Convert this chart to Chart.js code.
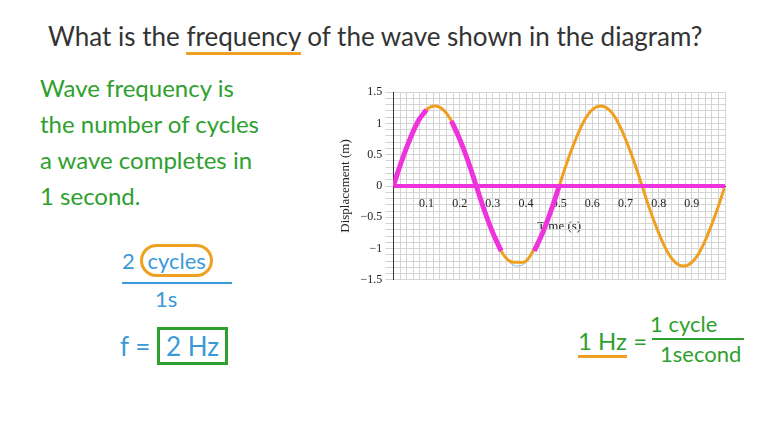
<!DOCTYPE html><html><head><meta charset="utf-8">
<script src="https://cdn.jsdelivr.net/npm/chart.js@4"></script>
<style>
body{margin:0;width:760px;height:427px;background:#fff;position:relative;overflow:hidden;font-family:"Lato","Noto Sans",sans-serif}
.t{position:absolute;white-space:nowrap}
#wrap{position:absolute;left:334px;top:82px;width:394px;height:208px}
</style></head><body>
<div class="t" style="left:48px;top:20px;font-size:26px;color:#333">What is the <span style="border-bottom:3px solid #f0a020">frequency</span> of the wave shown in the diagram?</div>
<div class="t" style="left:40px;top:70px;font-size:24px;color:#2ea02e;line-height:36px">Wave frequency is<br>the number of cycles<br>a wave completes in<br>1 second.</div>
<div class="t" style="left:122px;top:247px;font-size:22px;color:#3a9ad9">2 <span style="border:3px solid #f0a020;border-radius:18px;padding:0 4px">cycles</span></div>
<div class="t" style="left:122px;top:282px;width:110px;border-top:2px solid #3a9ad9"></div>
<div class="t" style="left:155px;top:285px;font-size:22px;color:#3a9ad9">1s</div>
<div class="t" style="left:120px;top:330px;font-size:26px;color:#3a9ad9">f = <span style="border:3px solid #2ea02e;padding:0 6px">2 Hz</span></div>
<div class="t" style="left:578px;top:326px;font-size:24px;color:#2ea02e"><span style="border-bottom:3px solid #f0a020">1 Hz</span> =</div>
<div class="t" style="left:650px;top:310px;font-size:22px;color:#2ea02e">1 cycle</div>
<div class="t" style="left:652px;top:338px;width:92px;border-top:2px solid #2ea02e"></div>
<div class="t" style="left:660px;top:340px;font-size:22px;color:#2ea02e">1second</div>
<div id="wrap"><canvas id="c"></canvas></div>
<script>
const times=[0,0.025,0.05,0.075,0.1,0.125,0.15,0.175,0.2,0.225,0.25,0.275,0.3,0.325,0.35,0.375,0.4,0.425,0.45,0.475,0.5,0.525,0.55,0.575,0.6,0.625,0.65,0.675,0.7,0.725,0.75,0.775,0.8,0.825,0.85,0.875,0.9,0.925,0.95,0.975,1];
const displacement=[0,0.4,0.75,1.04,1.22,1.28,1.22,1.04,0.75,0.4,0,-0.4,-0.75,-1.04,-1.22,-1.28,-1.22,-1.04,-0.75,-0.4,0,0.4,0.75,1.04,1.22,1.28,1.22,1.04,0.75,0.4,0,-0.4,-0.75,-1.04,-1.22,-1.28,-1.22,-1.04,-0.75,-0.4,0];
const orangeTrace=[0,0.4,0.75,1.04,1.22,1.28,1.22,1.04,0.75,0.4,0,-0.4,-0.75,-1.04,-1.2,-1.22,-1.2,-1.0,-0.75,-0.4,0,0.4,0.75,1.04,1.22,1.28,1.22,1.04,0.75,0.4,0,-0.4,-0.75,-1.04,-1.22,-1.28,-1.22,-1.04,-0.75,-0.4,0];
const pinkTrace=[0,0.4,0.75,1.04,1.22,null,null,1.04,0.75,0.4,0,-0.4,-0.75,-1.04,null,null,null,-1.04,-0.75,-0.4,0,null,null,null,null,null,null,null,null,null,null,null,null,null,null,null,null,null,null,null,null];
const pinkZero=times.map(()=>0);
const xy=a=>times.map((t,i)=>({x:t,y:a[i]}));
new Chart(document.getElementById('c'),{type:'line',data:{datasets:[
{data:xy(pinkZero),borderColor:'#ee33dd',borderWidth:4,pointRadius:0},
{data:xy(pinkTrace),borderColor:'#ee33dd',borderWidth:5,pointRadius:0,tension:0.4,spanGaps:false},
{data:xy(orangeTrace),borderColor:'#f0a020',borderWidth:3,pointRadius:0,tension:0.4},
{data:xy(displacement),borderColor:'#8ab8e0',borderWidth:1,pointRadius:0,tension:0.4}
]},options:{responsive:true,maintainAspectRatio:false,animation:false,plugins:{legend:{display:false},tooltip:{enabled:false}},
scales:{x:{type:'linear',min:0,max:1,position:{y:0},grid:{color:'#d4d4d4'},border:{color:'#333'},
ticks:{stepSize:0.02,autoSkip:false,maxRotation:0,color:'#222',font:{family:'Liberation Serif',size:12},callback:v=>{const r=Math.round(v*100);return (r%10===0&&r>0&&r<100)?(r/100).toString():''}},
title:{display:true,text:'Time (s)',color:'#222',font:{family:'Liberation Serif',size:13},padding:{top:4}}},
y:{min:-1.5,max:1.5,grid:{color:'#d4d4d4'},border:{color:'#333'},
ticks:{stepSize:0.1,autoSkip:false,color:'#222',font:{family:'Liberation Serif',size:12},callback:v=>{const r=Math.round(v*10);return r%5===0?(r<0?'\u2212'+Math.abs(r/10):(r/10).toString()):''}},
title:{display:true,text:'Displacement (m)',color:'#222',font:{family:'Liberation Serif',size:13}}}}}});
</script></body></html>
